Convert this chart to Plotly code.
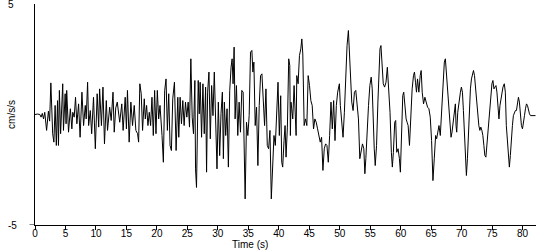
import plotly.graph_objects as go

# Time (s) of each read-off vertex of the accelerogram
time_s = [
    0, 0.4, 0.8, 1.0, 1.2, 1.4, 1.6, 1.9, 2.2, 2.4, 2.6, 2.9, 3.1, 3.3, 3.5, 3.7, 3.85, 4.0, 4.2,
    4.55, 4.67, 4.95, 5.1, 5.2, 5.5, 5.8, 6.05, 6.2, 6.43, 6.65, 6.87, 7.15, 7.4, 7.7, 7.97, 8.25,
    8.4, 8.63, 8.8, 9.07, 9.3, 9.6, 9.9, 10.2, 10.45, 10.6, 10.9, 11.15, 11.4, 11.7, 11.9, 12.25,
    12.5, 12.8, 13.0,
    13.25, 13.5, 13.9, 14.24, 14.46, 14.8, 15.0, 15.17, 15.45, 15.73, 16.0, 16.28, 16.55, 16.83,
    17.0, 17.2, 17.43, 17.65, 17.93, 18.1, 18.31, 18.53, 18.75, 18.97, 19.19, 19.41, 19.63, 19.85,
    20.07, 20.29, 20.51, 20.84, 21.06, 21.28, 21.5, 21.72, 21.94, 22.16, 22.38, 22.6, 22.88, 23.15,
    23.43, 23.59, 23.81, 24.03, 24.25, 24.47, 24.69, 24.91, 25.13, 25.35, 25.57, 25.79, 26.0,
    26.23, 26.34, 26.5, 26.78,
    26.95, 27.1, 27.33, 27.55, 27.77, 27.99, 28.15, 28.32, 28.54, 28.76, 28.98, 29.2, 29.42, 29.64,
    29.86, 30.08, 30.3, 30.52, 30.74, 30.91, 31.07, 31.29, 31.51, 31.73, 31.95, 32.17, 32.34, 32.5,
    32.67, 32.83, 33.05, 33.27, 33.49, 33.71, 33.93, 34.15, 34.32, 34.48, 34.7, 34.92, 35.14,
    35.36, 35.58, 35.75, 35.91, 36.13, 36.35, 36.57, 36.79, 37.01, 37.23, 37.45, 37.67, 37.89,
    38.11, 38.33, 38.55, 38.77, 38.99, 39.21, 39.43, 39.65, 39.87, 40.09, 40.31, 40.48,
    40.64, 40.86, 41.03, 41.19, 41.41, 41.63, 41.8, 41.9, 42.0, 42.12, 42.29, 42.51, 42.67, 42.84,
    42.95, 43.17, 43.39, 43.61, 43.78, 43.94, 44.16, 44.38, 44.6, 44.82, 45.04, 45.26, 45.48,
    45.7, 45.92, 46.14, 46.36, 46.58, 46.8, 47.02, 47.24, 47.46, 47.68, 47.9, 48.12, 48.34, 48.56,
    48.78, 49.0, 49.22, 49.44, 49.66, 49.94, 50.1, 50.32, 50.54, 50.76, 50.98, 51.2, 51.42, 51.59,
    51.75, 51.97, 52.19, 52.41, 52.63, 52.85, 53.07, 53.29, 53.51, 53.73, 53.95, 54.06,
    54.12, 54.28, 54.5, 54.72, 54.94, 55.16, 55.33, 55.49, 55.66, 55.82, 56.04, 56.26, 56.48,
    56.6, 56.76, 56.92, 57.14, 57.36, 57.59, 57.81, 58.03, 58.25, 58.47, 58.63, 58.8, 59.02,
    59.18, 59.35, 59.57, 59.79, 59.95, 60.17, 60.34, 60.5, 60.67, 60.89, 61.05, 61.22, 61.44,
    61.66, 61.88, 62.1, 62.26, 62.43, 62.59, 62.76, 62.98, 63.2, 63.36, 63.53, 63.75, 63.97,
    64.19, 64.41, 64.63, 64.85, 65.07, 65.18, 65.29, 65.51, 65.73, 65.9, 66.06, 66.28, 66.5,
    66.72, 66.94, 67.16, 67.33, 67.49,
    67.71, 67.93, 68.09, 68.26, 68.42, 68.58, 68.8, 68.97, 69.08, 69.19, 69.36, 69.58, 69.8,
    69.96, 70.13, 70.29, 70.46, 70.62, 70.78, 70.95, 71.11, 71.28, 71.44, 71.61, 71.78, 71.94,
    72.11, 72.27, 72.44, 72.66, 72.82, 72.99, 73.15, 73.32, 73.48, 73.65, 73.81, 73.98, 74.14,
    74.31, 74.47, 74.64, 74.8, 74.97, 75.13, 75.3, 75.46, 75.63, 75.79, 75.96, 76.12, 76.29,
    76.45, 76.62, 76.78, 77.0, 77.17, 77.33, 77.5, 77.66, 77.83, 77.99, 78.16, 78.33, 78.49,
    78.66, 78.82, 78.99, 79.15, 79.32, 79.48, 79.65, 79.81, 79.98, 80.14, 80.31, 80.47, 80.64,
    80.8, 80.97, 81.13, 81.3, 81.46, 82.12,
]

# Acceleration (cm/s/s) read at each vertex
accel_cm_s2 = [
    0.0, 0.02, 0.0, -0.12, 0.05, -0.2, 0.1, -0.72, 0.15, -0.3, 1.43, -0.87, -1.25, 0.41, -1.40,
    0.63, -1.40, 1.09, -0.87, 1.39, -0.72, 0.94, -0.42, 1.09, -0.8, 0.26, -0.65, 0.1, -0.12,
    0.78, -0.42, 0.48, -1.03, 1.01, -0.5, 0.41, -0.2, 1.46, -0.5, 0.18, -0.87, 0.78, -1.55, 0.94,
    -0.57, 1.16, -0.5, 1.24, -1.33, 0.63, -0.72, 0.33, -0.27, 1.01, -0.8,
    0.3, 0.56, -0.35, 0.48, -0.72, 0.78, -0.65, 1.09, -1.25, 0.56, -0.5, 0.41, -0.72, -0.87,
    -1.25, 1.39, 0.94, -0.72, 0.71, -0.2, 0.41, -0.5, 0.1, -0.5, 0.78, -0.95, 1.09, -0.87,
    1.09, -0.2, 0.41, -0.95, -2.16, 1.09, 1.61, -0.72, 0.94, -1.40, -1.63, 0.71, 1.46, -1.63,
    0.78, -1.03, 0.78, -0.42, 0.63, -0.5, 0.56, -0.12, 0.56, -0.57, 2.52, -0.12, -0.87,
    1.54, -2.46, -3.3, 1.54,
    0.03, 1.46, -1.03, 1.39, -0.87, 1.24, -2.61, 1.01, 1.92, -1.10, 1.31, -0.05, 1.92, -0.8,
    -2.46, 0.56, -1.86, 0.05, 1.01, -2.0, 0.56, -0.95, 0.26, -2.38, 1.09, 2.14, 2.52, 1.39,
    3.05, -0.2, 1.31, -0.95, 0.56, -0.8, 1.09, 1.01, -0.95, -3.82, -0.35, -0.95, -0.05,
    2.82, 2.9, 1.92, 2.37, -0.5, 0.33, -2.31, 0.41, 1.76, 1.84, 0.71, -0.5, 1.16,
    -1.4, -1.55, -0.72, -3.82, -2.31, -0.95, -1.4, 0.26, 1.46, -0.95, 0.85, -2.16,
    -2.38, -1.18, -0.5, -1.93, -0.57, 2.52, 2.22, -0.95, 0.56, 0.26, -0.2, 1.31, 0.41, -0.95,
    1.76, 1.39, 2.67, 2.97, 3.42, 2.74, -0.5, -0.2, -0.5, 1.76, 1.31, 0.63, 0.41,
    -0.65, -0.2, -0.35, -0.65, -0.95, -1.25, -1.03, -2.53, -1.55, -1.33, -1.40, -2.16, -0.95, 0.56,
    -0.65, 0.63, -1.18, 0.41, 1.01, 1.39, 0.41, -0.5, -1.03, 0.10, 1.76, 3.12, 3.80, 2.97,
    1.92, 0.56, 0.18, 1.01, 1.09, 0.33, -0.2, -2.0, -1.71, -1.33, -1.55, -2.46,
    -2.68, -2.0, -0.5, 0.41, 1.31, 1.69, 1.16, -0.5, -1.55, -2.31, -1.40, 0.56, 2.22,
    2.97, 3.12, 2.22, 1.39, 1.24, 1.46, 2.14, 1.31, 0.10, -1.71, -2.38, -1.71, -0.35,
    -0.27, -1.71, -1.55, -2.0, -2.61, -0.5, 0.86, 1.01, 0.26, -0.2, -0.35, -0.5, -1.40,
    -0.05, 1.16, 1.76, 1.92, 1.46, 1.01, 1.61, 1.01, 1.76, 1.99, 1.01, 0.48, 0.78,
    0.56, 0.33, 0.26, -0.12, -1.18, -2.31, -2.99, -2.0, -0.95, -1.10, -0.8, -0.5, -0.95,
    0.26, 1.76, 2.37, 2.52, 1.92,
    1.01, 0.41, -0.5, -1.03, -0.8, -0.35, 0.26, 0.48, -0.5, -0.8, 0.10, 0.71, 1.01,
    1.24, 1.01, 0.18, -0.8, -2.16, -2.76, -2.0, -0.8, 0.41, 1.16, 1.61, 1.92, 1.99,
    1.76, 1.16, 0.48, 0.10, -0.5, -0.72, -0.57, -0.72, -0.95, -1.40, -1.86, -1.93, -1.40,
    -0.8, -0.2, 0.18, 1.01, 1.39, 1.54, 1.16, 1.24, 1.31, 1.01, 0.26, -0.2, 0.41,
    0.71, 1.01, 1.24, 1.39, 1.01, -0.5, -1.25, -1.86, -2.38, -1.86, -0.8, -0.5, -0.05,
    0.10, 0.18, 0.18, 0.56, 0.78, 0.56, 0.0, -0.5, -0.65, -0.42, -0.05, 0.26, 0.48,
    0.41, 0.18, 0.03, -0.05, -0.05, -0.05,
]

x_ticks = [0, 5, 10, 15, 20, 25, 30, 35, 40, 45, 50, 55, 60, 65, 70, 75, 80]
y_tick_labels = ["5", "-5"]
y_tick_values = [5, -5]

FONT = "Liberation Sans"

fig = go.Figure()
fig.add_trace(go.Scatter(
    x=time_s, y=accel_cm_s2, mode="lines",
    line=dict(color="black", width=1),
    hoverinfo="skip", showlegend=False,
))

annotations = []
for lbl, val in zip(y_tick_labels, y_tick_values):
    annotations.append(dict(
        text=lbl, x=-0.058, xref="paper", y=val, yref="y",
        xanchor="left", yanchor="middle", showarrow=False,
        font=dict(family=FONT, size=10, color="black"),
    ))
annotations.append(dict(
    text="Time (s)", x=0.43, xref="paper", y=-0.086, yref="paper",
    xanchor="center", yanchor="middle", showarrow=False, borderpad=0,
    font=dict(family=FONT, size=10, color="black"),
))
annotations.append(dict(
    text="cm/s/s", x=-0.047, xref="paper", y=0.5, yref="paper",
    xanchor="center", yanchor="middle", textangle=-90, showarrow=False,
    font=dict(family=FONT, size=10, color="black"),
))

fig.update_layout(
    width=550, height=250,
    margin=dict(l=35, r=14, t=4, b=25),
    paper_bgcolor="white", plot_bgcolor="white",
    font=dict(family=FONT, size=10, color="black"),
    annotations=annotations,
    shapes=[dict(type="line", xref="paper", yref="y", x0=-0.011, x1=0, y0=-5, y1=-5,
                 line=dict(color="black", width=1))],
    xaxis=dict(
        range=[0, 82.2], tickvals=x_ticks, ticktext=[str(v) for v in x_ticks],
        showgrid=False, zeroline=False, showline=True, linecolor="black", linewidth=1,
        ticks="outside", ticklen=4, tickcolor="black", tickwidth=1,
        ticklabelstandoff=-5,
        tickfont=dict(family=FONT, size=10, color="black"),
    ),
    yaxis=dict(
        range=[-5, 5], showgrid=False, zeroline=False, showline=True,
        linecolor="black", linewidth=1, ticks="", showticklabels=False,
    ),
)

fig.write_html("out.html")
